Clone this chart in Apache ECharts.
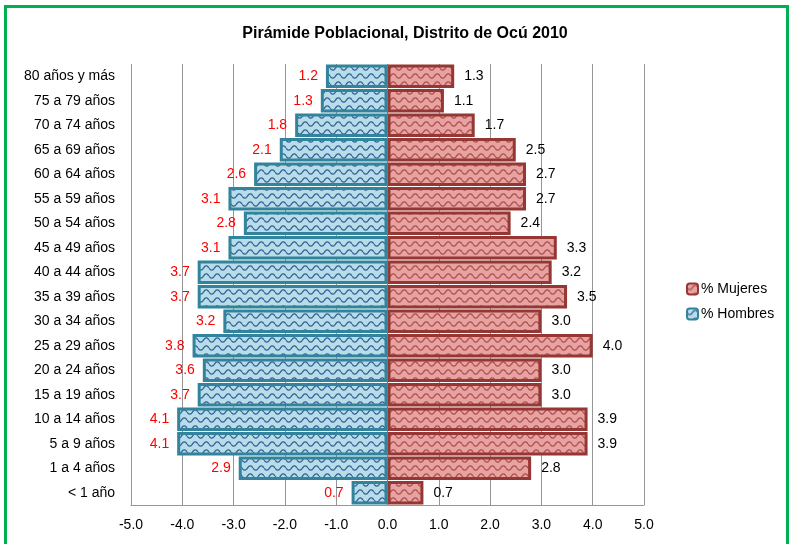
<!DOCTYPE html>
<html>
<head>
<meta charset="utf-8">
<script src="https://cdn.jsdelivr.net/npm/echarts@6/dist/echarts.min.js"></script>
<style>
  html, body { margin: 0; padding: 0; background: #fff; }
  .frame {
    position: absolute; left: 4px; top: 5px; width: 779px; height: 545px;
    border: 3px solid #00b050; box-sizing: content-box;
  }
  #chart { position: absolute; left: 0; top: 0; width: 793px; height: 544px; }
</style>
</head>
<body>
<div class="frame"></div>
<div id="chart"></div>
<script>
  // grupos de edad, de arriba hacia abajo
  var grupos = ['80 años y más', '75 a 79 años', '70 a 74 años', '65 a 69 años', '60 a 64 años',
    '55 a 59 años', '50 a 54 años', '45 a 49 años', '40 a 44 años', '35 a 39 años', '30 a 34 años',
    '25 a 29 años', '20 a 24 años', '15 a 19 años', '10 a 14 años', '5 a 9 años', '1 a 4 años', '< 1 año'];
  var hombres = [1.2, 1.3, 1.8, 2.1, 2.6, 3.1, 2.8, 3.1, 3.7, 3.7, 3.2, 3.8, 3.6, 3.7, 4.1, 4.1, 2.9, 0.7];
  var mujeres = [1.3, 1.1, 1.7, 2.5, 2.7, 2.7, 2.4, 3.3, 3.2, 3.5, 3.0, 4.0, 3.0, 3.0, 3.9, 3.9, 2.8, 0.7];
  var ticks = [-5, -4, -3, -2, -1, 0, 1, 2, 3, 4, 5];

  // relleno ondulado como en Excel
  function wave(bg, fg) {
    var c = document.createElement('canvas');
    c.width = 11; c.height = 8;
    var g = c.getContext('2d');
    g.fillStyle = bg;
    g.fillRect(0, 0, 11, 8);
    g.strokeStyle = fg;
    g.lineWidth = 1.3;
    g.beginPath();
    for (var x = 0; x <= 11; x += 0.5) {
      var y = 4 + 2.2 * Math.sin(x / 11 * Math.PI * 2);
      if (x === 0) g.moveTo(x, y); else g.lineTo(x, y);
    }
    g.stroke();
    return { image: c, repeat: 'repeat' };
  }

  var font = 'Liberation Sans';
  var chart = echarts.init(document.getElementById('chart'));
  chart.setOption({
    animation: false,
    title: {
      text: 'Pirámide Poblacional, Distrito de Ocú 2010',
      left: 400, top: 21, textAlign: 'center',
      textStyle: { fontFamily: font, fontSize: 16, fontWeight: 'bold', color: '#000' }
    },
    legend: {
      orient: 'vertical', left: 681, top: 277, itemWidth: 11, itemHeight: 11, itemGap: 11,
      icon: 'roundRect',
      data: ['% Mujeres', '% Hombres'],
      textStyle: { fontFamily: font, fontSize: 14, color: '#000', padding: [0, 0, 0, -2] }
    },
    grid: { left: 131, right: 149, top: 64, height: 441, containLabel: false },
    xAxis: {
      type: 'value', min: -5, max: 5, interval: 1,
      axisLine: { show: true, lineStyle: { color: '#969696' } },
      axisTick: { show: false },
      splitLine: { lineStyle: { color: '#969696' } },
      axisLabel: {
        fontFamily: font, fontSize: 14, color: '#000', margin: 13,
        formatter: function (v) { return v.toFixed(1); }
      }
    },
    yAxis: {
      type: 'category', inverse: true, data: grupos,
      axisLine: { show: false }, axisTick: { show: false },
      axisLabel: { fontFamily: font, fontSize: 14, color: '#000', margin: 16 }
    },
    series: [
      {
        name: '% Hombres', type: 'bar', barGap: '-100%', barCategoryGap: '4%',
        data: hombres.map(function (v) { return -v; }),
        itemStyle: { color: wave('#b7dde8', '#3a5f9c'), borderColor: '#31849b', borderWidth: 3 },
        label: {
          show: true, position: 'left', distance: 8, color: '#ff0000',
          fontFamily: font, fontSize: 14,
          formatter: function (p) { return Math.abs(p.value).toFixed(1); }
        },
        markLine: {
          silent: true, symbol: 'none', label: { show: false },
          lineStyle: { color: '#777', width: 1, type: 'solid' },
          data: [{ xAxis: 0 }]
        }
      },
      {
        name: '% Mujeres', type: 'bar', barCategoryGap: '4%',
        data: mujeres,
        itemStyle: { color: wave('#e6a3a1', '#b04e4b'), borderColor: '#953735', borderWidth: 3 },
        label: {
          show: true, position: 'right', distance: 10, color: '#000',
          fontFamily: font, fontSize: 14,
          formatter: function (p) { return p.value.toFixed(1); }
        }
      }
    ]
  });
</script>
</body>
</html>
